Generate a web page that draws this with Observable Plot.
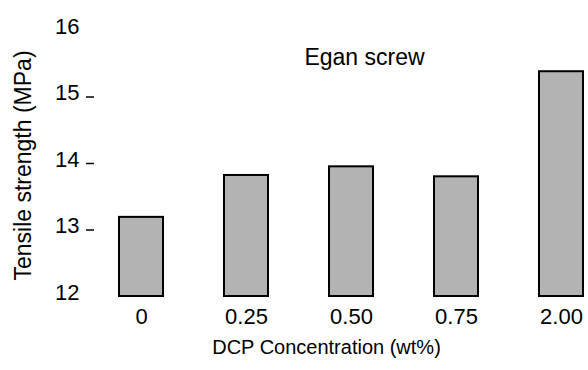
<!DOCTYPE html>
<html>
<head>
<meta charset="utf-8">
<script src="https://cdn.jsdelivr.net/npm/d3@7"></script>
<script src="https://cdn.jsdelivr.net/npm/@observablehq/plot@0.6"></script>
<style>
  html, body { margin: 0; padding: 0; background: #fff; }
  svg { display: block; }
</style>
</head>
<body>
<div id="chart"></div>
<script>
const concentrations = ["0", "0.25", "0.50", "0.75", "2.00"];
const strength = [13.19, 13.82, 13.95, 13.80, 15.38];
const yTickValues = [12, 13, 14, 15, 16];
const yTickMarks = [13, 14, 15];
const baseline = 12;
const chartTitle = "Egan screw";
const xTitle = "DCP Concentration (wt%)";
const yTitle = "Tensile strength (MPa)";

const data = concentrations.map((c, i) => ({conc: c, value: strength[i]}));
const font = "'Liberation Sans', Arial, Helvetica, sans-serif";

const chart = Plot.plot({
  width: 588,
  height: 370,
  marginLeft: 115,
  marginRight: 1,
  marginTop: 30,
  marginBottom: 74,
  style: {fontFamily: font, background: "#fff", color: "#000"},
  x: {domain: concentrations, paddingInner: 0.583, paddingOuter: 0.03, axis: null},
  y: {domain: [12, 16], axis: null},
  marks: [
    Plot.barY(data, {x: "conc", y1: () => baseline, y2: "value", fill: "#b3b3b3", stroke: "#000", strokeWidth: 2}),
    Plot.axisY({ticks: yTickValues, tickFormat: d => String(d), tickSize: 0, tickPadding: 36, dy: -4, fontSize: 22, label: null}),
    Plot.axisY({ticks: yTickMarks, tickSize: 8, text: null, dx: -21, strokeWidth: 1.5, label: null}),
    Plot.axisX({tickSize: 0, tickPadding: 12, fontSize: 22, label: null}),
    Plot.text([chartTitle], {frameAnchor: "top", textAnchor: "middle", lineAnchor: "middle", dx: 13, dy: 27, fontSize: 23, fill: "#000"}),
    Plot.text([yTitle], {frameAnchor: "left", textAnchor: "middle", lineAnchor: "middle", rotate: -90, dx: -92, dy: 2, fontSize: 23, fill: "#000"}),
    Plot.text([xTitle], {frameAnchor: "bottom", textAnchor: "middle", lineAnchor: "middle", dx: -25, dy: 51, fontSize: 20, fill: "#000"})
  ]
});
document.getElementById("chart").appendChild(chart);
</script>
</body>
</html>
